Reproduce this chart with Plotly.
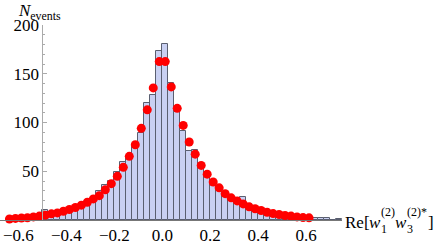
import plotly.graph_objects as go

# ---- data ----
bin_width = 0.025
bin_left_edges = [round(-0.65 + i * 0.025, 4) for i in range(56)]  # -0.65 ... 0.725
counts = [1, 2, 2, 2, 3, 3,            # -0.65 .. -0.525
          10, 7, 7, 8, 10, 12, 14,      # -0.5 .. -0.35
          14, 18, 30, 36, 40, 49, 60, 65, 77, 89,   # -0.325 .. -0.1
          120, 128, 173,                # -0.075 .. -0.025
          181, 141, 111, 91, 71, 72, 55, 47, 39, 33, 29, 25, 22, 24,  # 0 .. 0.325
          16, 12, 10, 9, 7, 6, 5, 5, 4, 3, 3, 2, 2, 2, 0, 1]         # 0.35 .. 0.725

dot_x = [round(-0.6375 + i * 0.025, 4) for i in range(51)]  # -0.6375 ... 0.6125
dot_y = [1.0, 1.6, 2.0, 2.3, 3.2, 4.0, 5.0, 6.3, 7.3, 9.0, 10.8, 12.8, 15.2, 18.2,
         21.6, 25.0, 31.0, 37.3, 44.8, 54.0, 65.3, 77.2, 94.0, 113.0, 135.5,
         162.5, 162.5, 136.5, 114.5, 97.0, 80.0, 67.5, 56.0, 47.0, 39.0, 33.0,
         27.0, 22.7, 19.6, 16.5, 13.5, 11.5, 9.8, 8.0, 6.6, 5.6, 4.6, 4.0, 3.2,
         2.5, 2.2]

x_tick_vals = [-0.6, -0.4, -0.2, 0.0, 0.2, 0.4, 0.6]
x_tick_text = ["\u22120.6", "\u22120.4", "\u22120.2", "0.0", "0.2", "0.4", "0.6"]
y_tick_vals = [50, 100, 150, 200]
y_tick_text = ["50", "100", "150", "200"]

x_range = [-0.677, 0.75]
y_range = [0, 200]
y_axis_at = -0.5

bin_centers = [e + bin_width / 2 for e in bin_left_edges]

FONT = "Liberation Serif, Times New Roman, serif"
PLOT_W, PLOT_H, TOP = 342.5, 195, 25


def px(x):
    return x / PLOT_W


def py(y):
    return (TOP + PLOT_H - y) / PLOT_H


fig = go.Figure()
fig.add_trace(go.Bar(
    x=bin_centers, y=counts, width=bin_width,
    marker=dict(color="#c9d0f2", line=dict(color="#5a5f70", width=1)),
    showlegend=False, hoverinfo="skip",
))
fig.add_trace(go.Scatter(
    x=dot_x, y=dot_y, mode="markers",
    marker=dict(color="#ff0000", size=9, line=dict(width=0)),
    cliponaxis=False, showlegend=False, hoverinfo="skip",
))

label_parts = [
    # text, left pixel x, centre pixel y, size
    ("Re[", 345, 222, 17),
    ("<i>w</i>", 369, 222, 17),
    ("(2)", 381, 212, 12),
    ("1", 381, 229, 12),
    ("<i>w</i>", 395, 222, 17),
    ("(2)*", 407, 212, 12),
    ("3", 407, 229, 12),
    ("]", 428, 222, 17),
]
annotations = [
    dict(text="<i>N</i><sub>events</sub>", xref="paper", yref="paper",
         x=px(17), y=py(0), xanchor="left", yanchor="top",
         showarrow=False, borderpad=0, font=dict(family=FONT, size=17)),
]
for t, lx, cy, s in label_parts:
    annotations.append(dict(text=t, xref="paper", yref="paper", x=px(lx), y=py(cy),
                            xanchor="left", yanchor="middle", showarrow=False,
                            borderpad=0, font=dict(family=FONT, size=s, color="black")))

fig.update_layout(
    template="none",
    width=436, height=242,
    margin=dict(l=0, r=436 - PLOT_W, t=TOP, b=242 - TOP - PLOT_H, pad=0),
    paper_bgcolor="white", plot_bgcolor="white",
    bargap=0,
    font=dict(family=FONT, size=17, color="black"),
    xaxis=dict(
        range=x_range, showgrid=False, zeroline=False, automargin=False,
        showline=True, linecolor="#777777", linewidth=1,
        tickvals=x_tick_vals, ticktext=x_tick_text, ticks="",
        tickfont=dict(family=FONT, size=17, color="black"),
    ),
    yaxis=dict(
        range=y_range, showgrid=False, zeroline=False, automargin=False,
        anchor="free",
        position=(y_axis_at - x_range[0]) / (x_range[1] - x_range[0]),
        showline=True, linecolor="#aaaaaa", linewidth=1,
        tickvals=y_tick_vals, ticktext=y_tick_text,
        ticks="inside", ticklen=4, tickcolor="#aaaaaa",
        minor=dict(dtick=10, ticks="inside", ticklen=2, tickcolor="#aaaaaa"),
        tickfont=dict(family=FONT, size=17, color="black"),
    ),
    annotations=annotations,
)

fig.write_html("out.html", config={"displayModeBar": False},
               post_script="document.body.style.margin='0';")
